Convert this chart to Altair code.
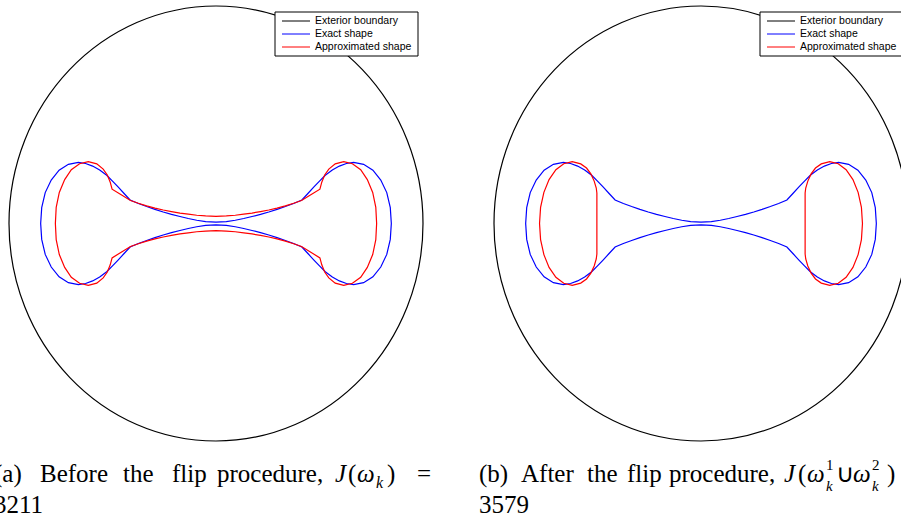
import altair as alt
import pandas as pd

# ---------------- data (normalised coordinates: exterior boundary is the unit circle) ----------------
circle_pts = [(1.0, 0.0), (0.9239, 0.3827), (0.7071, 0.7071), (0.3827, 0.9239), (0.0, 1.0),
              (-0.3827, 0.9239), (-0.7071, 0.7071), (-0.9239, 0.3827), (-1.0, 0.0),
              (-0.9239, -0.3827), (-0.7071, -0.7071), (-0.3827, -0.9239), (0.0, -1.0),
              (0.3827, -0.9239), (0.7071, -0.7071), (0.9239, -0.3827)]

blue_exact = [
    (0.000, 0.006), (-0.050, 0.009), (-0.093, 0.015), (-0.134, 0.023), (-0.174, 0.032), (-0.215, 0.042),
    (-0.255, 0.053), (-0.295, 0.065), (-0.335, 0.078), (-0.375, 0.092), (-0.415, 0.108), (-0.444, 0.138),
    (-0.472, 0.167), (-0.500, 0.195), (-0.528, 0.222), (-0.562, 0.246), (-0.596, 0.264), (-0.630, 0.276),
    (-0.665, 0.281), (-0.713, 0.272), (-0.758, 0.245), (-0.796, 0.200), (-0.825, 0.142), (-0.842, 0.073),
    (-0.847, 0.000),
    (-0.842, -0.073), (-0.825, -0.142), (-0.796, -0.200), (-0.758, -0.245), (-0.713, -0.272), (-0.665, -0.281),
    (-0.630, -0.276), (-0.596, -0.264), (-0.562, -0.246), (-0.528, -0.222), (-0.500, -0.195), (-0.472, -0.167),
    (-0.444, -0.138), (-0.415, -0.108), (-0.375, -0.092), (-0.335, -0.078), (-0.295, -0.065), (-0.255, -0.053),
    (-0.215, -0.042), (-0.174, -0.032), (-0.134, -0.023), (-0.093, -0.015), (-0.050, -0.009), (0.000, -0.006),
    (0.050, -0.009), (0.093, -0.015), (0.134, -0.023), (0.174, -0.032), (0.215, -0.042), (0.255, -0.053),
    (0.295, -0.065), (0.335, -0.078), (0.375, -0.092), (0.415, -0.108), (0.444, -0.138), (0.472, -0.167),
    (0.500, -0.195), (0.528, -0.222), (0.562, -0.246), (0.596, -0.264), (0.630, -0.276), (0.665, -0.281),
    (0.713, -0.272), (0.758, -0.245), (0.796, -0.200), (0.825, -0.142), (0.842, -0.073), (0.847, 0.000),
    (0.842, 0.073), (0.825, 0.142), (0.796, 0.200), (0.758, 0.245), (0.713, 0.272), (0.665, 0.281),
    (0.630, 0.276), (0.596, 0.264), (0.562, 0.246), (0.528, 0.222), (0.500, 0.195), (0.472, 0.167),
    (0.444, 0.138), (0.415, 0.108), (0.375, 0.092), (0.335, 0.078), (0.295, 0.065), (0.255, 0.053),
    (0.215, 0.042), (0.174, 0.032), (0.134, 0.023), (0.093, 0.015), (0.050, 0.009),
]

red_before = [
    (0.000, 0.033), (-0.050, 0.035), (-0.093, 0.038), (-0.134, 0.043), (-0.174, 0.048), (-0.215, 0.055),
    (-0.255, 0.062), (-0.295, 0.071), (-0.335, 0.081), (-0.375, 0.093), (-0.413, 0.106), (-0.458, 0.132),
    (-0.502, 0.158), (-0.511, 0.190), (-0.525, 0.223), (-0.545, 0.250), (-0.576, 0.274), (-0.617, 0.284),
    (-0.659, 0.275), (-0.699, 0.247), (-0.731, 0.202), (-0.757, 0.143), (-0.772, 0.074), (-0.776, 0.000),
    (-0.772, -0.074), (-0.757, -0.143), (-0.731, -0.202), (-0.699, -0.247), (-0.659, -0.275), (-0.617, -0.284),
    (-0.576, -0.274), (-0.545, -0.250), (-0.525, -0.223), (-0.511, -0.190), (-0.502, -0.158), (-0.458, -0.132),
    (-0.413, -0.106), (-0.375, -0.093), (-0.335, -0.081), (-0.295, -0.071), (-0.255, -0.062), (-0.215, -0.055),
    (-0.174, -0.048), (-0.134, -0.043), (-0.093, -0.038), (-0.050, -0.035), (0.000, -0.033),
    (0.050, -0.035), (0.093, -0.038), (0.134, -0.043), (0.174, -0.048), (0.215, -0.055), (0.255, -0.062),
    (0.295, -0.071), (0.335, -0.081), (0.375, -0.093), (0.413, -0.106), (0.458, -0.132), (0.502, -0.158),
    (0.511, -0.190), (0.525, -0.223), (0.545, -0.250), (0.576, -0.274), (0.617, -0.284), (0.659, -0.275),
    (0.699, -0.247), (0.731, -0.202), (0.757, -0.143), (0.772, -0.074), (0.776, 0.000),
    (0.772, 0.074), (0.757, 0.143), (0.731, 0.202), (0.699, 0.247), (0.659, 0.275), (0.617, 0.284),
    (0.576, 0.274), (0.545, 0.250), (0.525, 0.223), (0.511, 0.190), (0.502, 0.158), (0.458, 0.132),
    (0.413, 0.106), (0.375, 0.093), (0.335, 0.081), (0.295, 0.071), (0.255, 0.062), (0.215, 0.055),
    (0.174, 0.048), (0.134, 0.043), (0.093, 0.038), (0.050, 0.035),
]

red_after_left = [
    (-0.503, -0.140), (-0.503, 0.140), (-0.506, 0.163), (-0.516, 0.195), (-0.532, 0.228), (-0.553, 0.255),
    (-0.581, 0.274), (-0.622, 0.284), (-0.663, 0.275), (-0.701, 0.247), (-0.734, 0.202), (-0.759, 0.143),
    (-0.775, 0.074), (-0.780, 0.000), (-0.775, -0.074), (-0.759, -0.143), (-0.734, -0.202), (-0.701, -0.247),
    (-0.663, -0.275), (-0.622, -0.284), (-0.581, -0.274), (-0.553, -0.255), (-0.532, -0.228), (-0.516, -0.195),
    (-0.506, -0.163),
]
red_after_right = [
    (0.503, -0.140), (0.503, 0.140), (0.506, 0.163), (0.516, 0.195), (0.532, 0.228), (0.553, 0.255),
    (0.581, 0.274), (0.622, 0.284), (0.663, 0.275), (0.701, 0.247), (0.734, 0.202), (0.759, 0.143),
    (0.775, 0.074), (0.780, 0.000), (0.775, -0.074), (0.759, -0.143), (0.734, -0.202), (0.701, -0.247),
    (0.663, -0.275), (0.622, -0.284), (0.581, -0.274), (0.553, -0.255), (0.532, -0.228), (0.516, -0.195),
    (0.506, -0.163),
]

legend_labels = ["Exterior boundary", "Exact shape", "Approximated shape"]
legend_colors = ["#000000", "#0000ff", "#ff0000"]

caption_a_text = ["(a)", "Before", "the", "flip", "procedure,", "J", "(", "ω", "k", ")", "=", "3211"]
caption_b_text = ["(b)", "After", "the", "flip", "procedure,", "J", "(", "ω", "1", "k", "∪", "ω", "2", "k", ")", "=", "3579"]

# ---------------- layout / style ----------------
# (x, baseline y, font size, italic) per caption piece, in panel pixels
FS = 25
SS = 16
caption_a_layout = [(-6, 482, FS, False), (40, 482, FS, False), (123, 482, FS, False), (172, 482, FS, False),
                    (217, 482, FS, False), (335, 482, FS, True), (348, 482, FS, False), (357, 482, FS, True),
                    (376, 488, SS, True), (387, 482, FS, False), (417, 482, FS, False), (-6, 513, FS, False)]
caption_b_layout = [(9, 482, FS, False), (51, 482, FS, False), (117, 482, FS, False), (157, 482, FS, False),
                    (199, 482, FS, False), (314, 482, FS, True), (328, 482, FS, False), (337, 482, FS, True),
                    (356, 470, 15, False), (356, 491, 15, True), (366, 482, FS, False), (383, 482, FS, True),
                    (402, 470, 15, False), (402, 491, 15, True), (417, 482, FS, False), (447, 482, FS, False),
                    (9, 513, FS, False)]

H = 522
YDOM = [-1.37241, 1.02759]
SERIF = "Liberation Serif"
SANS = "Liberation Sans"
LW = 1.2


def to_df(points, loop=0):
    return pd.DataFrame({"u": [p[0] for p in points], "v": [p[1] for p in points],
                         "i": list(range(len(points))), "loop": loop})


def shape_layer(df, color, xdom, interp):
    return alt.Chart(df).mark_line(interpolate=interp, color=color, strokeWidth=LW, clip=True).encode(
        x=alt.X("u:Q", scale=alt.Scale(domain=xdom, nice=False, zero=False), axis=None),
        y=alt.Y("v:Q", scale=alt.Scale(domain=YDOM, nice=False, zero=False), axis=None),
        order=alt.Order("i:Q"),
        detail="loop:N",
    )


def text_layer(s, x, y, size, italic, font, baseline="alphabetic"):
    return alt.Chart(pd.DataFrame({"t": [s]})).mark_text(
        align="left", baseline=baseline, font=font, fontSize=size,
        fontStyle="italic" if italic else "normal", color="black", clip=True
    ).encode(text="t:N", x=alt.value(x), y=alt.value(y))


def panel(xdom, width, red_df, lx0, cap_text, cap_layout):
    layers = [
        shape_layer(to_df(circle_pts), "#000000", xdom, "cardinal-closed"),
        shape_layer(to_df(blue_exact), legend_colors[1], xdom, "linear-closed"),
        shape_layer(red_df, legend_colors[2], xdom, "linear-closed"),
    ]
    # legend box
    layers.append(alt.Chart(pd.DataFrame({"k": [0]})).mark_rect(
        fill="white", stroke="black", strokeWidth=1, clip=True
    ).encode(x=alt.value(lx0), x2=alt.value(lx0 + 143), y=alt.value(12), y2=alt.value(56)))
    for k, (lab, col) in enumerate(zip(legend_labels, legend_colors)):
        yy = 21 + 13 * k
        layers.append(alt.Chart(pd.DataFrame({"k": [0]})).mark_rule(
            stroke=col, strokeWidth=1, clip=True
        ).encode(x=alt.value(lx0 + 7), x2=alt.value(lx0 + 35), y=alt.value(yy)))
        layers.append(text_layer(lab, lx0 + 40, yy, 10.5, False, SANS, baseline="middle"))
    for s, (x, y, size, it) in zip(cap_text, cap_layout):
        layers.append(text_layer(s, x, y, size, it, SERIF))
    return alt.layer(*layers).properties(width=width, height=H)


red_after_df = pd.concat([to_df(red_after_left, 0), to_df(red_after_right, 1)], ignore_index=True)

panel_a = panel([-1.04348, 1.08213], 440, to_df(red_before), 275, caption_a_text, caption_a_layout)
panel_b = panel([-1.11594, 0.96618], 431, red_after_df, 290, caption_b_text, caption_b_layout)

chart = alt.hconcat(panel_a, panel_b, spacing=30, bounds="flush").properties(
    padding=0, background="white"
).configure_view(stroke=None)

chart.save("out.html", embed_options={"renderer": "svg", "actions": False})
